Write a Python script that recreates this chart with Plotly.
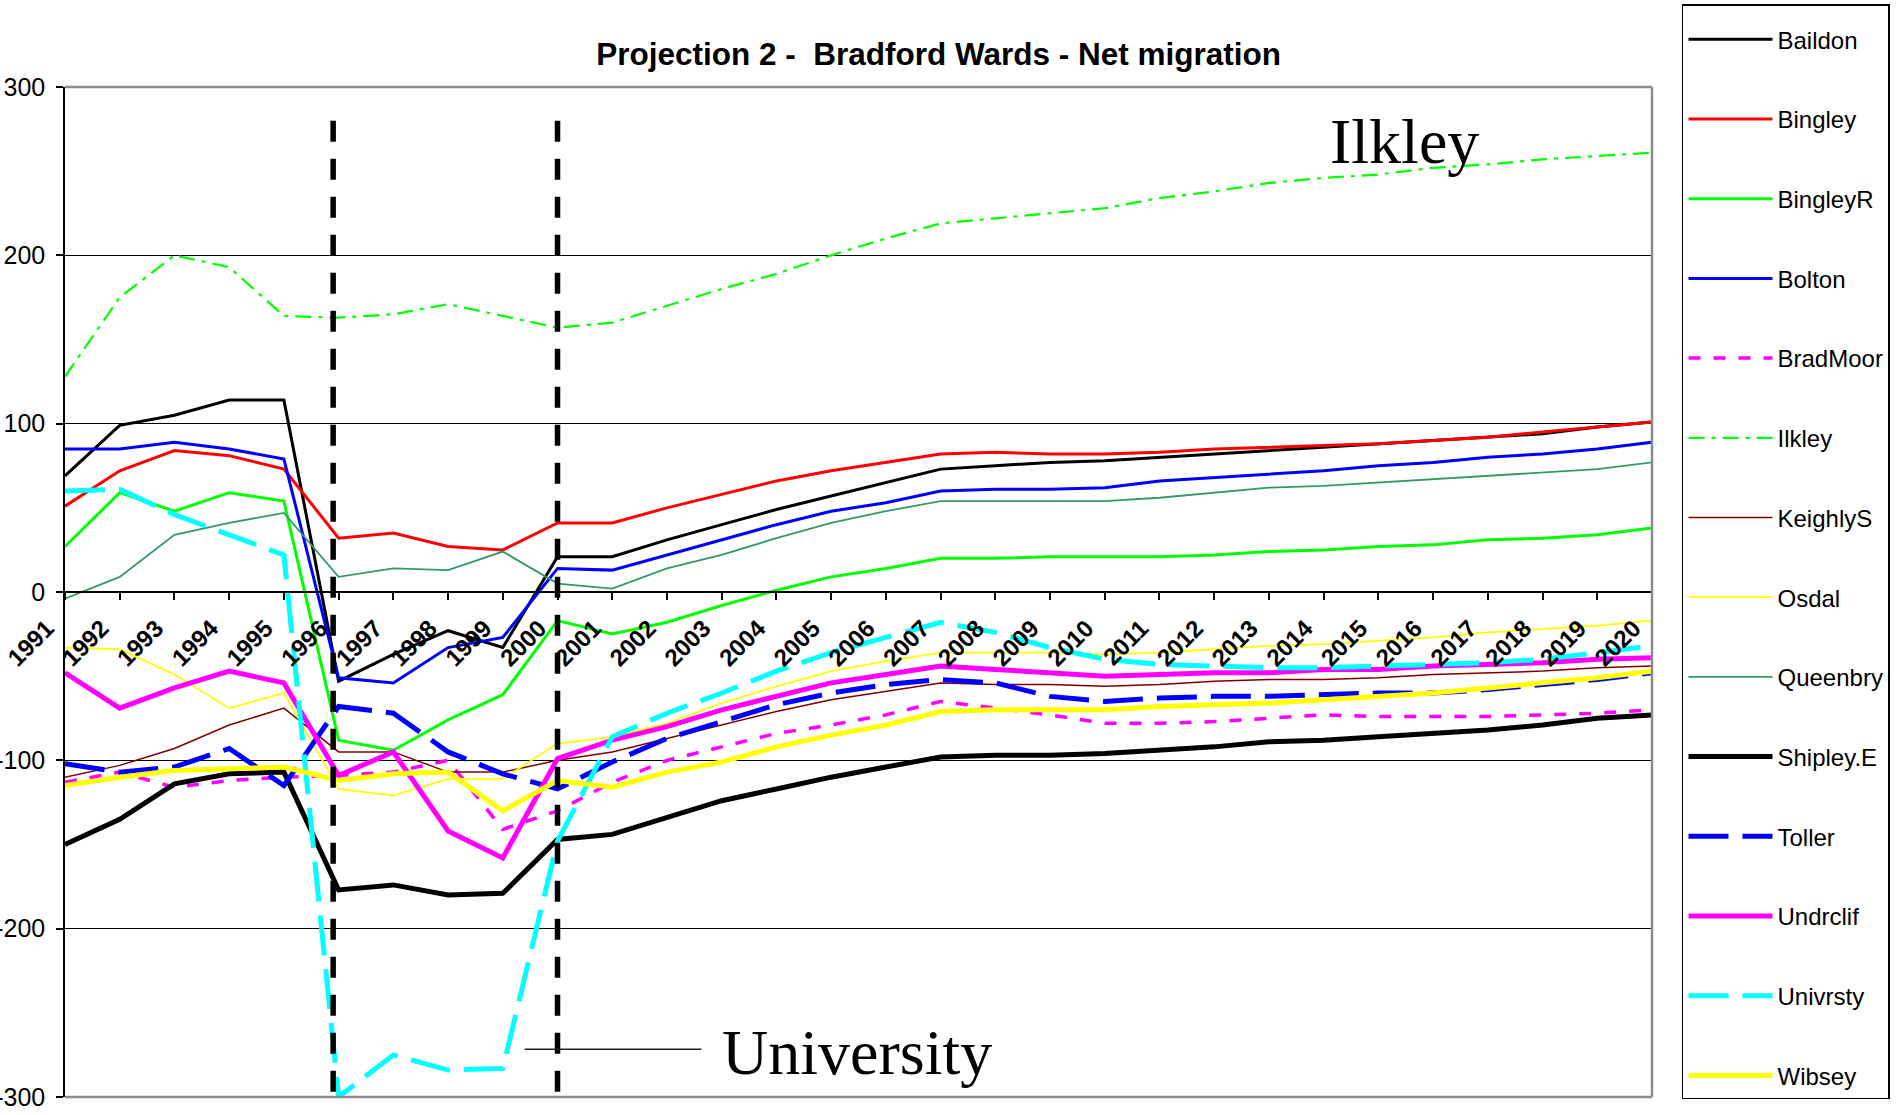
import plotly.graph_objects as go

# ---------------- data ----------------
years = list(range(1991, 2021))
year_labels = [str(y) for y in years]
y_tick_vals = [-300, -200, -100, 0, 100, 200, 300]
y_tick_labels = ["-300", "-200", "-100", "0", "100", "200", "300"]

baildon = [69, 99, 105, 114, 114, -53, -37, -23, -33, 21, 21, 31, 40, 49, 57, 65, 73, 75, 77, 78,
           80, 82, 84, 86, 88, 90, 92, 94, 98, 101]
bingley = [51, 72, 84, 81, 73, 32, 35, 27, 25, 41, 41, 50, 58, 66, 72, 77, 82, 83, 82, 82,
           83, 85, 86, 87, 88, 90, 92, 95, 98, 101]
bingleyr = [27, 59, 48, 59, 54, -88, -94, -76, -61, -17, -25, -18, -8, 1, 9, 14, 20, 20, 21, 21,
            21, 22, 24, 25, 27, 28, 31, 32, 34, 38]
bolton = [85, 85, 89, 85, 79, -51, -54, -33, -27, 14, 13, 22, 31, 40, 48, 53, 60, 61, 61, 62,
          66, 68, 70, 72, 75, 77, 80, 82, 85, 89]
bradmoor = [-113, -107, -116, -112, -110, -109, -107, -100, -141, -130, -113, -100, -92, -84, -79, -73, -65, -69, -73, -78,
            -78, -77, -75, -73, -74, -74, -74, -73, -72, -70]
ilkley = [128, 175, 200, 193, 164, 163, 165, 171, 164, 157, 160, 170, 180, 189, 200, 210, 219, 222, 225, 228,
          234, 238, 243, 246, 248, 252, 254, 257, 259, 261]
keighlys = [-110, -103, -93, -79, -69, -95, -95, -107, -107, -100, -95, -87, -79, -71, -64, -59, -54, -55, -55, -56,
            -55, -53, -52, -52, -51, -49, -48, -47, -45, -44]
osdal = [-33, -34, -49, -69, -60, -117, -121, -111, -111, -90, -86, -78, -66, -56, -47, -41, -36, -36, -36, -37,
         -36, -34, -32, -31, -29, -27, -24, -22, -20, -17]
queenbry = [-4, 9, 34, 41, 47, 9, 14, 13, 24, 5, 2, 14, 22, 32, 41, 48, 54, 54, 54, 54,
            56, 59, 62, 63, 65, 67, 69, 71, 73, 77]
shipley_e = [-150, -135, -114, -108, -107, -177, -174, -180, -179, -147, -144, -134, -124, -117, -110, -104, -98, -97, -97, -96,
             -94, -92, -89, -88, -86, -84, -82, -79, -75, -73]
toller = [-102, -107, -104, -93, -115, -68, -72, -95, -108, -117, -101, -87, -77, -67, -60, -55, -52, -54, -62, -65,
          -63, -62, -62, -61, -60, -60, -58, -55, -52, -48]
undrclif = [-48, -69, -57, -47, -54, -109, -95, -142, -158, -99, -88, -80, -70, -62, -54, -49, -44, -46, -48, -50,
            -49, -48, -48, -46, -46, -44, -43, -42, -40, -39]
univrsty = [60, 61, 46, 34, 22, -300, -275, -284, -283, -148, -86, -72, -60, -47, -36, -27, -18, -24, -33, -40,
            -43, -44, -45, -45, -44, -43, -42, -40, -36, -32]
wibsey = [-115, -110, -106, -105, -104, -112, -108, -107, -130, -112, -116, -107, -101, -92, -85, -79, -71, -70, -70, -70,
          -68, -67, -66, -64, -62, -60, -57, -54, -51, -47]

ward_names = ["Baildon", "Bingley", "BingleyR", "Bolton", "BradMoor", "Ilkley", "KeighlyS",
              "Osdal", "Queenbry", "Shipley.E", "Toller", "Undrclif", "Univrsty", "Wibsey"]
ward_values = [baildon, bingley, bingleyr, bolton, bradmoor, ilkley, keighlys,
               osdal, queenbry, shipley_e, toller, undrclif, univrsty, wibsey]

# styles (kept apart from the data)
styles = {
    "Baildon":   dict(color="#000000", width=3, dash="solid"),
    "Bingley":   dict(color="#FF0000", width=3, dash="solid"),
    "BingleyR":  dict(color="#00FF00", width=3, dash="solid"),
    "Bolton":    dict(color="#0000FF", width=3, dash="solid"),
    "BradMoor":  dict(color="#FF00FF", width=3.5, dash="12px,13px"),
    "Ilkley":    dict(color="#00FF00", width=2.2, dash="16px,7px,4px,7px"),
    "KeighlyS":  dict(color="#800000", width=1.5, dash="solid"),
    "Osdal":     dict(color="#FFFF00", width=1.8, dash="solid"),
    "Queenbry":  dict(color="#339966", width=1.8, dash="solid"),
    "Shipley.E": dict(color="#000000", width=5, dash="solid"),
    "Toller":    dict(color="#0000FF", width=5, dash="40px,14px"),
    "Undrclif":  dict(color="#FF00FF", width=5, dash="solid"),
    "Univrsty":  dict(color="#00FFFF", width=5, dash="40px,14px"),
    "Wibsey":    dict(color="#FFFF00", width=5, dash="solid"),
}

fig = go.Figure()
for name, vals in zip(ward_names, ward_values):
    fig.add_trace(go.Scatter(x=years, y=vals, mode="lines", name=name,
                             legendgroup=name, line=styles[name]))

# ---------------- decorations ----------------
marker_years = [1995.9, 2000.0]
for xv in marker_years:
    fig.add_shape(type="line", xref="x", yref="y", x0=xv, x1=xv, y0=280, y1=-300,
                  line=dict(color="black", width=5.5, dash="21px,17px"), layer="above")

# plot-area frame (top, right, bottom) in grey
for (x0, y0, x1, y1) in [(0, 1, 1, 1), (1, 0, 1, 1), (0, 0, 1, 0)]:
    fig.add_shape(type="line", xref="x domain", yref="y domain", x0=x0, y0=y0, x1=x1, y1=y1,
                  line=dict(color="#8c8c8c", width=2.5), layer="above")

# pointer line for University label
fig.add_shape(type="line", xref="x", yref="y", x0=1999.4, x1=2002.63, y0=-271.7, y1=-271.7,
              line=dict(color="#222222", width=1.5), layer="above")

fig.add_annotation(x=2015.47, y=267.5, xref="x", yref="y", text="Ilkley", showarrow=False,
                   font=dict(family="Liberation Serif", size=64, color="black"),
                   xanchor="center", yanchor="middle")
fig.add_annotation(x=2002.97, y=-273.7, xref="x", yref="y", text="University", showarrow=False,
                   font=dict(family="Liberation Serif", size=64, color="black"),
                   xanchor="left", yanchor="middle")

fig.update_layout(
    width=1899, height=1115,
    margin=dict(l=65, r=247, t=87, b=18, pad=0, autoexpand=False),
    paper_bgcolor="white", plot_bgcolor="white",
    title=dict(text="<b>Projection 2 -  Bradford Wards - Net migration</b>",
               x=0.5505, xref="paper", xanchor="center",
               y=1 - 54 / 1115, yref="container", yanchor="middle",
               font=dict(family="Liberation Sans", size=31.5, color="black")),
    showlegend=True,
    legend=dict(x=1.0189, xanchor="left", xref="paper",
                y=1 - 4 / 1115, yanchor="top", yref="container",
                maxheight=1115,
                title=dict(text=" ", font=dict(size=9)),
                bordercolor="#000000", borderwidth=1.5, bgcolor="white",
                font=dict(family="Liberation Sans", size=24, color="black"),
                tracegroupgap=45.5, itemwidth=84),
    xaxis=dict(range=[1991, 2020], tickmode="array", tickvals=years, ticktext=year_labels,
               tickangle=-45, ticks="outside", ticklen=7, tickcolor="black", tickwidth=1.5,
               showline=True, linecolor="black", linewidth=1.5, automargin=False,
               anchor="free", position=0.5, showgrid=False, zeroline=False,
               tickfont=dict(family="Liberation Sans", size=24, color="black", weight="bold"),
               ticklabelshift=-18, ticklabelstandoff=5, ticklabeloverflow="allow"),
    yaxis=dict(range=[-300, 300], domain=[0, 1], tickmode="array", tickvals=y_tick_vals,
               ticktext=y_tick_labels, ticks="outside", ticklen=7, tickcolor="black", tickwidth=1.5,
               showline=True, linecolor="black", linewidth=1.5, automargin=False,
               showgrid=True, gridcolor="black", gridwidth=1, zeroline=False,
               tickfont=dict(family="Liberation Sans", size=25, color="black"),
               ticklabelstandoff=6, ticklabeloverflow="allow"),
)

fig.write_html("out.html", config={"displayModeBar": False},
               post_script="document.body.style.margin='0px';")
